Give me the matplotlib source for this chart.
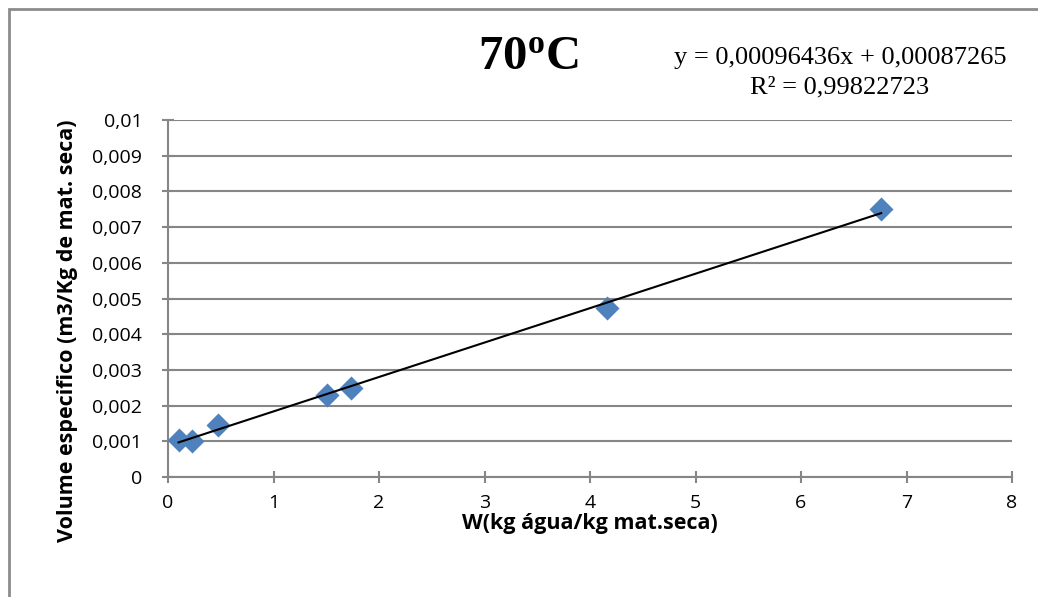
import numpy as np
import matplotlib.pyplot as plt
from matplotlib.patches import Rectangle

plt.rcParams['font.family'] = ['Open Sans', 'DejaVu Sans']
plt.rcParams['mathtext.fontset'] = 'custom'
plt.rcParams['mathtext.rm'] = 'Liberation Serif'
plt.rcParams['mathtext.bf'] = 'Liberation Serif:bold'

# data
w = [0.10, 0.23, 0.47, 1.51, 1.73, 4.16, 6.76]
vol = [0.00104, 0.00100, 0.00145, 0.00229, 0.00248, 0.00473, 0.00750]
slope = 0.00096436
intercept = 0.00087265
r2 = 0.99822723

x_ticks = [0, 1, 2, 3, 4, 5, 6, 7, 8]
y_ticks = [0, 0.001, 0.002, 0.003, 0.004, 0.005, 0.006, 0.007, 0.008, 0.009, 0.01]

grey = '#868686'

fig = plt.figure(figsize=(10.38, 5.97), dpi=100)
ax = fig.add_axes([168/1038, 1 - 477/597, (1012 - 168)/1038, (477 - 120)/597])

# outer chart frame
fig.patches.append(Rectangle((9/1038, -0.05), 1.1, 1 - 9/597 + 0.05, transform=fig.transFigure,
                             fill=False, edgecolor='#8c8c8c', lw=2))

ax.scatter(w, vol, marker='D', s=150, color='#4F81BD', zorder=3, linewidths=0)
xl = np.array([min(w), max(w)])
ax.plot(xl, slope * xl + intercept, color='black', lw=1.5, zorder=4)

ax.set_xlim(0, 8)
ax.set_ylim(0, 0.01)
ax.set_xticks(x_ticks)
ax.set_yticks(y_ticks)
ax.set_xticklabels([str(v) for v in x_ticks])
ax.set_yticklabels(['0' if v == 0 else f'{v:g}'.replace('.', ',') for v in y_ticks])
ax.grid(axis='y', color=grey, lw=1.5)
ax.set_axisbelow(True)
for s in ['top', 'right']:
    ax.spines[s].set_visible(False)
for s in ['left', 'bottom']:
    ax.spines[s].set_color(grey)
    ax.spines[s].set_linewidth(1.5)
ax.tick_params(axis='both', direction='inout', length=9, width=1.5, color=grey, labelsize=14)
ax.tick_params(axis='y', pad=14)
ax.tick_params(axis='x', pad=8)

ax.set_xlabel('W(kg água/kg mat.seca)', fontsize=15.5, fontweight='bold')
ax.set_ylabel('Volume especifico (m3/Kg de mat. seca)', fontsize=15.5, fontweight='bold')
ax.xaxis.set_label_coords(590/1038, 1 - 524/597, transform=fig.transFigure)
ax.yaxis.set_label_coords(68/1038, 1 - 331/597, transform=fig.transFigure)
ax.xaxis.label.set_va('center')
ax.yaxis.label.set_va('center')

fig.text(528/1038, 1 - 56/597, r'$\mathbf{70^{o}C}$', fontsize=35, ha='center', va='center')
eq = f'y = {slope:.8f}x + {intercept:.8f}'.replace('.', ',')
r2txt = f'R² = {r2:.8f}'.replace('.', ',')
fig.text(840/1038, 1 - 58/597, eq, family='Liberation Serif', fontsize=19, ha='center', va='center')
fig.text(840/1038, 1 - 87/597, r2txt, family='Liberation Serif', fontsize=19, ha='center', va='center')

fig.savefig('out.png', dpi=100)
